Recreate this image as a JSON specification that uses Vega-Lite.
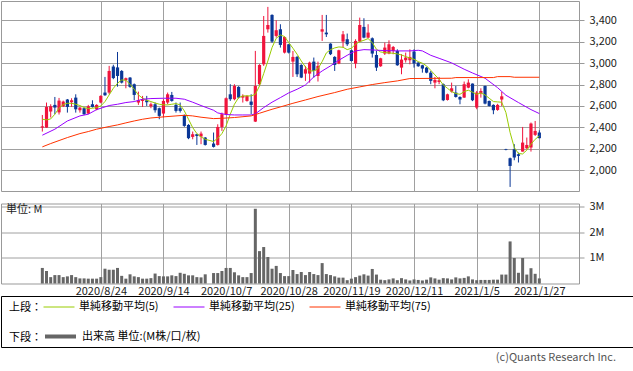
{
"$schema":"https://vega.github.io/schema/vega-lite/v6.json",
"padding":0,
"background":"white",
"datasets":{
"k":[
{"d":"2020-08-03","i":0,"o":2398,"h":2516,"l":2361,"c":2410,"v":0.61},
{"d":"2020-08-04","i":1,"o":2398,"h":2632,"l":2395,"c":2591,"v":0.49},
{"d":"2020-08-05","i":2,"o":2548,"h":2616,"l":2492,"c":2597,"v":0.25},
{"d":"2020-08-06","i":3,"o":2610,"h":2684,"l":2523,"c":2585,"v":0.33},
{"d":"2020-08-07","i":4,"o":2540,"h":2675,"l":2520,"c":2650,"v":0.33},
{"d":"2020-08-11","i":5,"o":2597,"h":2650,"l":2590,"c":2641,"v":0.25},
{"d":"2020-08-12","i":6,"o":2660,"h":2665,"l":2538,"c":2591,"v":0.28},
{"d":"2020-08-13","i":7,"o":2635,"h":2672,"l":2591,"c":2653,"v":0.33},
{"d":"2020-08-14","i":8,"o":2678,"h":2709,"l":2538,"c":2569,"v":0.25},
{"d":"2020-08-17","i":9,"o":2560,"h":2590,"l":2538,"c":2585,"v":0.20},
{"d":"2020-08-18","i":10,"o":2579,"h":2585,"l":2515,"c":2523,"v":0.20},
{"d":"2020-08-19","i":11,"o":2529,"h":2610,"l":2523,"c":2597,"v":0.19},
{"d":"2020-08-20","i":12,"o":2616,"h":2653,"l":2585,"c":2591,"v":0.19},
{"d":"2020-08-21","i":13,"o":2569,"h":2616,"l":2560,"c":2610,"v":0.19},
{"d":"2020-08-24","i":14,"o":2632,"h":2700,"l":2625,"c":2694,"v":0.25},
{"d":"2020-08-25","i":15,"o":2725,"h":2871,"l":2694,"c":2700,"v":0.58},
{"d":"2020-08-26","i":16,"o":2725,"h":2974,"l":2709,"c":2927,"v":0.54},
{"d":"2020-08-27","i":17,"o":2968,"h":2985,"l":2850,"c":2860,"v":0.54},
{"d":"2020-08-28","i":18,"o":2960,"h":3104,"l":2780,"c":2880,"v":0.61},
{"d":"2020-08-31","i":19,"o":2927,"h":2935,"l":2810,"c":2818,"v":0.30},
{"d":"2020-09-01","i":20,"o":2840,"h":2865,"l":2765,"c":2859,"v":0.19},
{"d":"2020-09-02","i":21,"o":2865,"h":2870,"l":2770,"c":2778,"v":0.36},
{"d":"2020-09-03","i":22,"o":2803,"h":2810,"l":2653,"c":2703,"v":0.28},
{"d":"2020-09-04","i":23,"o":2632,"h":2734,"l":2610,"c":2653,"v":0.25},
{"d":"2020-09-07","i":24,"o":2647,"h":2694,"l":2591,"c":2660,"v":0.19},
{"d":"2020-09-08","i":25,"o":2653,"h":2694,"l":2600,"c":2635,"v":0.19},
{"d":"2020-09-09","i":26,"o":2597,"h":2632,"l":2579,"c":2616,"v":0.21},
{"d":"2020-09-10","i":27,"o":2616,"h":2632,"l":2538,"c":2560,"v":0.39},
{"d":"2020-09-11","i":28,"o":2579,"h":2585,"l":2476,"c":2507,"v":0.29},
{"d":"2020-09-14","i":29,"o":2529,"h":2663,"l":2492,"c":2647,"v":0.28},
{"d":"2020-09-15","i":30,"o":2632,"h":2725,"l":2616,"c":2709,"v":0.28},
{"d":"2020-09-16","i":31,"o":2703,"h":2731,"l":2640,"c":2647,"v":0.32},
{"d":"2020-09-17","i":32,"o":2610,"h":2632,"l":2538,"c":2554,"v":0.29},
{"d":"2020-09-18","i":33,"o":2579,"h":2632,"l":2538,"c":2554,"v":0.42},
{"d":"2020-09-23","i":34,"o":2513,"h":2520,"l":2405,"c":2414,"v":0.38},
{"d":"2020-09-24","i":35,"o":2423,"h":2430,"l":2290,"c":2299,"v":0.32},
{"d":"2020-09-25","i":36,"o":2311,"h":2361,"l":2289,"c":2336,"v":0.32},
{"d":"2020-09-28","i":37,"o":2336,"h":2340,"l":2236,"c":2320,"v":0.25},
{"d":"2020-09-29","i":38,"o":2314,"h":2361,"l":2243,"c":2342,"v":0.24},
{"d":"2020-09-30","i":39,"o":2305,"h":2310,"l":2230,"c":2236,"v":0.36},
{"d":"2020-10-02","i":41,"o":2249,"h":2352,"l":2212,"c":2218,"v":0.41},
{"d":"2020-10-05","i":42,"o":2236,"h":2429,"l":2230,"c":2404,"v":0.41},
{"d":"2020-10-06","i":43,"o":2404,"h":2538,"l":2367,"c":2523,"v":0.49},
{"d":"2020-10-07","i":44,"o":2523,"h":2680,"l":2515,"c":2672,"v":0.61},
{"d":"2020-10-08","i":45,"o":2709,"h":2803,"l":2647,"c":2663,"v":0.61},
{"d":"2020-10-09","i":46,"o":2663,"h":2803,"l":2653,"c":2787,"v":0.44},
{"d":"2020-10-12","i":47,"o":2778,"h":2785,"l":2670,"c":2678,"v":0.32},
{"d":"2020-10-13","i":48,"o":2678,"h":2709,"l":2632,"c":2694,"v":0.25},
{"d":"2020-10-14","i":49,"o":2647,"h":2700,"l":2640,"c":2694,"v":0.25},
{"d":"2020-10-15","i":50,"o":2641,"h":2709,"l":2523,"c":2610,"v":0.41},
{"d":"2020-10-16","i":51,"o":2454,"h":3114,"l":2450,"c":2787,"v":2.93},
{"d":"2020-10-19","i":52,"o":2803,"h":2990,"l":2790,"c":2983,"v":1.27},
{"d":"2020-10-20","i":53,"o":2989,"h":3440,"l":2974,"c":3254,"v":1.43},
{"d":"2020-10-21","i":54,"o":3316,"h":3525,"l":3285,"c":3356,"v":1.04},
{"d":"2020-10-22","i":55,"o":3450,"h":3456,"l":3190,"c":3201,"v":0.58},
{"d":"2020-10-23","i":56,"o":3254,"h":3400,"l":3238,"c":3307,"v":0.69},
{"d":"2020-10-26","i":57,"o":3316,"h":3363,"l":3145,"c":3170,"v":0.41},
{"d":"2020-10-27","i":58,"o":3098,"h":3250,"l":3090,"c":3244,"v":0.29},
{"d":"2020-10-28","i":59,"o":3176,"h":3180,"l":3090,"c":3098,"v":0.29},
{"d":"2020-10-29","i":60,"o":3014,"h":3114,"l":2871,"c":3058,"v":0.53},
{"d":"2020-10-30","i":61,"o":3058,"h":3067,"l":2871,"c":2896,"v":0.37},
{"d":"2020-11-02","i":62,"o":2983,"h":2990,"l":2860,"c":2865,"v":0.45},
{"d":"2020-11-04","i":63,"o":2902,"h":2974,"l":2834,"c":2943,"v":0.33},
{"d":"2020-11-05","i":64,"o":2902,"h":3014,"l":2818,"c":3005,"v":0.45},
{"d":"2020-11-06","i":65,"o":3014,"h":3052,"l":2865,"c":2927,"v":0.37},
{"d":"2020-11-09","i":66,"o":2880,"h":3014,"l":2828,"c":2974,"v":0.33},
{"d":"2020-11-10","i":67,"o":3294,"h":3450,"l":3207,"c":3316,"v":0.80},
{"d":"2020-11-11","i":68,"o":3285,"h":3450,"l":3244,"c":3269,"v":0.37},
{"d":"2020-11-12","i":69,"o":3182,"h":3185,"l":3075,"c":3083,"v":0.33},
{"d":"2020-11-13","i":70,"o":3058,"h":3065,"l":2927,"c":2983,"v":0.28},
{"d":"2020-11-16","i":71,"o":2996,"h":3125,"l":2990,"c":3120,"v":0.23},
{"d":"2020-11-17","i":72,"o":3201,"h":3300,"l":3145,"c":3269,"v":0.23},
{"d":"2020-11-18","i":73,"o":3223,"h":3276,"l":3160,"c":3176,"v":0.13},
{"d":"2020-11-19","i":74,"o":3120,"h":3125,"l":3015,"c":3020,"v":0.19},
{"d":"2020-11-20","i":75,"o":2996,"h":3223,"l":2952,"c":3207,"v":0.25},
{"d":"2020-11-24","i":76,"o":3201,"h":3425,"l":3195,"c":3356,"v":0.31},
{"d":"2020-11-25","i":77,"o":3338,"h":3419,"l":3232,"c":3238,"v":0.36},
{"d":"2020-11-26","i":78,"o":3238,"h":3363,"l":3232,"c":3285,"v":0.31},
{"d":"2020-11-27","i":79,"o":3232,"h":3240,"l":3052,"c":3089,"v":0.57},
{"d":"2020-11-30","i":80,"o":3076,"h":3114,"l":2927,"c":2958,"v":0.35},
{"d":"2020-12-01","i":81,"o":2971,"h":3050,"l":2965,"c":3045,"v":0.15},
{"d":"2020-12-02","i":82,"o":3089,"h":3192,"l":3076,"c":3145,"v":0.13},
{"d":"2020-12-03","i":83,"o":3089,"h":3213,"l":3083,"c":3176,"v":0.16},
{"d":"2020-12-04","i":84,"o":3114,"h":3160,"l":3083,"c":3151,"v":0.20},
{"d":"2020-12-07","i":85,"o":3114,"h":3129,"l":2975,"c":2980,"v":0.13},
{"d":"2020-12-08","i":86,"o":2958,"h":3083,"l":2896,"c":3033,"v":0.21},
{"d":"2020-12-09","i":87,"o":3027,"h":3098,"l":3005,"c":3052,"v":0.16},
{"d":"2020-12-10","i":88,"o":3027,"h":3129,"l":2989,"c":3058,"v":0.12},
{"d":"2020-12-11","i":89,"o":3108,"h":3129,"l":2958,"c":2996,"v":0.16},
{"d":"2020-12-14","i":90,"o":3005,"h":3010,"l":2965,"c":2971,"v":0.14},
{"d":"2020-12-15","i":91,"o":2980,"h":2985,"l":2911,"c":2949,"v":0.12},
{"d":"2020-12-16","i":92,"o":2958,"h":2965,"l":2905,"c":2911,"v":0.15},
{"d":"2020-12-17","i":93,"o":2911,"h":2927,"l":2803,"c":2834,"v":0.24},
{"d":"2020-12-18","i":94,"o":2818,"h":2871,"l":2765,"c":2843,"v":0.20},
{"d":"2020-12-21","i":95,"o":2824,"h":2871,"l":2803,"c":2840,"v":0.15},
{"d":"2020-12-22","i":96,"o":2803,"h":2810,"l":2645,"c":2653,"v":0.21},
{"d":"2020-12-23","i":97,"o":2656,"h":2715,"l":2650,"c":2709,"v":0.20},
{"d":"2020-12-24","i":98,"o":2734,"h":2818,"l":2725,"c":2765,"v":0.16},
{"d":"2020-12-25","i":99,"o":2725,"h":2787,"l":2678,"c":2684,"v":0.24},
{"d":"2020-12-28","i":100,"o":2684,"h":2690,"l":2616,"c":2660,"v":0.20},
{"d":"2020-12-29","i":101,"o":2678,"h":2828,"l":2675,"c":2803,"v":0.22},
{"d":"2020-12-30","i":102,"o":2771,"h":2849,"l":2765,"c":2818,"v":0.28},
{"d":"2021-01-04","i":103,"o":2809,"h":2810,"l":2645,"c":2653,"v":0.16},
{"d":"2021-01-05","i":104,"o":2585,"h":2740,"l":2569,"c":2725,"v":0.13},
{"d":"2021-01-06","i":105,"o":2716,"h":2765,"l":2678,"c":2740,"v":0.14},
{"d":"2021-01-07","i":106,"o":2787,"h":2790,"l":2615,"c":2622,"v":0.14},
{"d":"2021-01-08","i":107,"o":2647,"h":2650,"l":2595,"c":2600,"v":0.14},
{"d":"2021-01-12","i":108,"o":2610,"h":2615,"l":2523,"c":2560,"v":0.15},
{"d":"2021-01-13","i":109,"o":2563,"h":2620,"l":2555,"c":2610,"v":0.15},
{"d":"2021-01-14","i":110,"o":2660,"h":2731,"l":2600,"c":2690,"v":0.35},
{"d":"2021-01-15","i":111,"o":2196,"h":2200,"l":2186,"c":2190,"v":0.35},
{"d":"2021-01-18","i":112,"o":2112,"h":2118,"l":1844,"c":2040,"v":1.65},
{"d":"2021-01-19","i":113,"o":2196,"h":2243,"l":2093,"c":2118,"v":1.00},
{"d":"2021-01-20","i":114,"o":2149,"h":2165,"l":2072,"c":2134,"v":0.42},
{"d":"2021-01-21","i":115,"o":2174,"h":2404,"l":2174,"c":2258,"v":1.00},
{"d":"2021-01-22","i":116,"o":2205,"h":2305,"l":2196,"c":2236,"v":0.35},
{"d":"2021-01-25","i":117,"o":2212,"h":2445,"l":2174,"c":2436,"v":0.60},
{"d":"2021-01-26","i":118,"o":2330,"h":2460,"l":2320,"c":2367,"v":0.38},
{"d":"2021-01-27","i":119,"o":2352,"h":2373,"l":2299,"c":2299,"v":0.20}
],
"m":[
{"s":"単純移動平均(5)","i":0,"p":2476},{"s":"単純移動平均(5)","i":1,"p":2470},{"s":"単純移動平均(5)","i":2,"p":2479},{"s":"単純移動平均(5)","i":3,"p":2523},{"s":"単純移動平均(5)","i":4,"p":2579},{"s":"単純移動平均(5)","i":5,"p":2613},{"s":"単純移動平均(5)","i":6,"p":2625},{"s":"単純移動平均(5)","i":7,"p":2625},{"s":"単純移動平均(5)","i":8,"p":2616},{"s":"単純移動平均(5)","i":9,"p":2604},{"s":"単純移動平均(5)","i":10,"p":2585},{"s":"単純移動平均(5)","i":11,"p":2576},{"s":"単純移動平均(5)","i":12,"p":2579},{"s":"単純移動平均(5)","i":13,"p":2585},{"s":"単純移動平均(5)","i":14,"p":2600},{"s":"単純移動平均(5)","i":15,"p":2641},{"s":"単純移動平均(5)","i":16,"p":2703},{"s":"単純移動平均(5)","i":17,"p":2765},{"s":"単純移動平均(5)","i":18,"p":2812},{"s":"単純移動平均(5)","i":19,"p":2843},{"s":"単純移動平均(5)","i":20,"p":2840},{"s":"単純移動平均(5)","i":21,"p":2803},{"s":"単純移動平均(5)","i":22,"p":2756},{"s":"単純移動平均(5)","i":23,"p":2703},{"s":"単純移動平均(5)","i":24,"p":2672},{"s":"単純移動平均(5)","i":25,"p":2653},{"s":"単純移動平均(5)","i":26,"p":2641},{"s":"単純移動平均(5)","i":27,"p":2628},{"s":"単純移動平均(5)","i":28,"p":2616},{"s":"単純移動平均(5)","i":29,"p":2610},{"s":"単純移動平均(5)","i":30,"p":2610},{"s":"単純移動平均(5)","i":31,"p":2616},{"s":"単純移動平均(5)","i":32,"p":2622},{"s":"単純移動平均(5)","i":33,"p":2610},{"s":"単純移動平均(5)","i":34,"p":2554},{"s":"単純移動平均(5)","i":35,"p":2476},{"s":"単純移動平均(5)","i":36,"p":2398},{"s":"単純移動平均(5)","i":37,"p":2342},{"s":"単純移動平均(5)","i":38,"p":2311},{"s":"単純移動平均(5)","i":39,"p":2289},{"s":"単純移動平均(5)","i":41,"p":2268},{"s":"単純移動平均(5)","i":42,"p":2299},{"s":"単純移動平均(5)","i":43,"p":2342},{"s":"単純移動平均(5)","i":44,"p":2414},{"s":"単純移動平均(5)","i":45,"p":2523},{"s":"単純移動平均(5)","i":46,"p":2616},{"s":"単純移動平均(5)","i":47,"p":2678},{"s":"単純移動平均(5)","i":48,"p":2694},{"s":"単純移動平均(5)","i":49,"p":2694},{"s":"単純移動平均(5)","i":50,"p":2694},{"s":"単純移動平均(5)","i":51,"p":2709},{"s":"単純移動平均(5)","i":52,"p":2787},{"s":"単純移動平均(5)","i":53,"p":2902},{"s":"単純移動平均(5)","i":54,"p":3020},{"s":"単純移動平均(5)","i":55,"p":3145},{"s":"単純移動平均(5)","i":56,"p":3232},{"s":"単純移動平均(5)","i":57,"p":3263},{"s":"単純移動平均(5)","i":58,"p":3248},{"s":"単純移動平均(5)","i":59,"p":3192},{"s":"単純移動平均(5)","i":60,"p":3139},{"s":"単純移動平均(5)","i":61,"p":3083},{"s":"単純移動平均(5)","i":62,"p":3020},{"s":"単純移動平均(5)","i":63,"p":2964},{"s":"単純移動平均(5)","i":64,"p":2927},{"s":"単純移動平均(5)","i":65,"p":2927},{"s":"単純移動平均(5)","i":66,"p":2949},{"s":"単純移動平均(5)","i":67,"p":3014},{"s":"単純移動平均(5)","i":68,"p":3095},{"s":"単純移動平均(5)","i":69,"p":3126},{"s":"単純移動平均(5)","i":70,"p":3142},{"s":"単純移動平均(5)","i":71,"p":3151},{"s":"単純移動平均(5)","i":72,"p":3148},{"s":"単純移動平均(5)","i":73,"p":3126},{"s":"単純移動平均(5)","i":74,"p":3139},{"s":"単純移動平均(5)","i":75,"p":3176},{"s":"単純移動平均(5)","i":76,"p":3201},{"s":"単純移動平均(5)","i":77,"p":3213},{"s":"単純移動平均(5)","i":78,"p":3229},{"s":"単純移動平均(5)","i":79,"p":3192},{"s":"単純移動平均(5)","i":80,"p":3129},{"s":"単純移動平均(5)","i":81,"p":3104},{"s":"単純移動平均(5)","i":82,"p":3098},{"s":"単純移動平均(5)","i":83,"p":3095},{"s":"単純移動平均(5)","i":84,"p":3092},{"s":"単純移動平均(5)","i":85,"p":3086},{"s":"単純移動平均(5)","i":86,"p":3076},{"s":"単純移動平均(5)","i":87,"p":3061},{"s":"単純移動平均(5)","i":88,"p":3048},{"s":"単純移動平均(5)","i":89,"p":3036},{"s":"単純移動平均(5)","i":90,"p":3014},{"s":"単純移動平均(5)","i":91,"p":2999},{"s":"単純移動平均(5)","i":92,"p":2974},{"s":"単純移動平均(5)","i":93,"p":2933},{"s":"単純移動平均(5)","i":94,"p":2890},{"s":"単純移動平均(5)","i":95,"p":2849},{"s":"単純移動平均(5)","i":96,"p":2796},{"s":"単純移動平均(5)","i":97,"p":2765},{"s":"単純移動平均(5)","i":98,"p":2734},{"s":"単純移動平均(5)","i":99,"p":2716},{"s":"単純移動平均(5)","i":100,"p":2709},{"s":"単純移動平均(5)","i":101,"p":2734},{"s":"単純移動平均(5)","i":102,"p":2747},{"s":"単純移動平均(5)","i":103,"p":2728},{"s":"単純移動平均(5)","i":104,"p":2709},{"s":"単純移動平均(5)","i":105,"p":2722},{"s":"単純移動平均(5)","i":106,"p":2703},{"s":"単純移動平均(5)","i":107,"p":2672},{"s":"単純移動平均(5)","i":108,"p":2641},{"s":"単純移動平均(5)","i":109,"p":2638},{"s":"単純移動平均(5)","i":110,"p":2635},{"s":"単純移動平均(5)","i":111,"p":2538},{"s":"単純移動平均(5)","i":112,"p":2352},{"s":"単純移動平均(5)","i":113,"p":2212},{"s":"単純移動平均(5)","i":114,"p":2156},{"s":"単純移動平均(5)","i":115,"p":2152},{"s":"単純移動平均(5)","i":116,"p":2187},{"s":"単純移動平均(5)","i":117,"p":2243},{"s":"単純移動平均(5)","i":118,"p":2289},{"s":"単純移動平均(5)","i":119,"p":2320},
{"s":"単純移動平均(25)","i":0,"p":2327},{"s":"単純移動平均(25)","i":3,"p":2383},{"s":"単純移動平均(25)","i":6,"p":2460},{"s":"単純移動平均(25)","i":9,"p":2507},{"s":"単純移動平均(25)","i":11,"p":2523},{"s":"単純移動平均(25)","i":13,"p":2566},{"s":"単純移動平均(25)","i":16,"p":2604},{"s":"単純移動平均(25)","i":18,"p":2616},{"s":"単純移動平均(25)","i":20,"p":2632},{"s":"単純移動平均(25)","i":22,"p":2641},{"s":"単純移動平均(25)","i":24,"p":2663},{"s":"単純移動平均(25)","i":26,"p":2669},{"s":"単純移動平均(25)","i":29,"p":2672},{"s":"単純移動平均(25)","i":32,"p":2672},{"s":"単純移動平均(25)","i":34,"p":2663},{"s":"単純移動平均(25)","i":36,"p":2635},{"s":"単純移動平均(25)","i":38,"p":2604},{"s":"単純移動平均(25)","i":41,"p":2560},{"s":"単純移動平均(25)","i":42,"p":2535},{"s":"単純移動平均(25)","i":44,"p":2520},{"s":"単純移動平均(25)","i":46,"p":2516},{"s":"単純移動平均(25)","i":48,"p":2516},{"s":"単純移動平均(25)","i":50,"p":2516},{"s":"単純移動平均(25)","i":51,"p":2526},{"s":"単純移動平均(25)","i":53,"p":2585},{"s":"単純移動平均(25)","i":55,"p":2635},{"s":"単純移動平均(25)","i":57,"p":2678},{"s":"単純移動平均(25)","i":59,"p":2722},{"s":"単純移動平均(25)","i":61,"p":2756},{"s":"単純移動平均(25)","i":63,"p":2796},{"s":"単純移動平均(25)","i":65,"p":2871},{"s":"単純移動平均(25)","i":67,"p":2927},{"s":"単純移動平均(25)","i":69,"p":2974},{"s":"単純移動平均(25)","i":71,"p":3027},{"s":"単純移動平均(25)","i":73,"p":3073},{"s":"単純移動平均(25)","i":75,"p":3114},{"s":"単純移動平均(25)","i":77,"p":3126},{"s":"単純移動平均(25)","i":79,"p":3123},{"s":"単純移動平均(25)","i":82,"p":3117},{"s":"単純移動平均(25)","i":85,"p":3114},{"s":"単純移動平均(25)","i":88,"p":3114},{"s":"単純移動平均(25)","i":90,"p":3120},{"s":"単純移動平均(25)","i":91,"p":3114},{"s":"単純移動平均(25)","i":93,"p":3073},{"s":"単純移動平均(25)","i":95,"p":3045},{"s":"単純移動平均(25)","i":98,"p":3002},{"s":"単純移動平均(25)","i":101,"p":2943},{"s":"単純移動平均(25)","i":103,"p":2908},{"s":"単純移動平均(25)","i":106,"p":2859},{"s":"単純移動平均(25)","i":109,"p":2771},{"s":"単純移動平均(25)","i":111,"p":2700},{"s":"単純移動平均(25)","i":114,"p":2632},{"s":"単純移動平均(25)","i":117,"p":2566},{"s":"単純移動平均(25)","i":119,"p":2529},
{"s":"単純移動平均(75)","i":0,"p":2218},{"s":"単純移動平均(75)","i":2,"p":2249},{"s":"単純移動平均(75)","i":4,"p":2277},{"s":"単純移動平均(75)","i":6,"p":2305},{"s":"単純移動平均(75)","i":9,"p":2342},{"s":"単純移動平均(75)","i":11,"p":2361},{"s":"単純移動平均(75)","i":13,"p":2383},{"s":"単純移動平均(75)","i":16,"p":2408},{"s":"単純移動平均(75)","i":18,"p":2423},{"s":"単純移動平均(75)","i":20,"p":2442},{"s":"単純移動平均(75)","i":22,"p":2460},{"s":"単純移動平均(75)","i":24,"p":2476},{"s":"単純移動平均(75)","i":26,"p":2488},{"s":"単純移動平均(75)","i":29,"p":2498},{"s":"単純移動平均(75)","i":32,"p":2507},{"s":"単純移動平均(75)","i":34,"p":2513},{"s":"単純移動平均(75)","i":36,"p":2507},{"s":"単純移動平均(75)","i":38,"p":2495},{"s":"単純移動平均(75)","i":41,"p":2482},{"s":"単純移動平均(75)","i":43,"p":2485},{"s":"単純移動平均(75)","i":46,"p":2492},{"s":"単純移動平均(75)","i":50,"p":2507},{"s":"単純移動平均(75)","i":52,"p":2532},{"s":"単純移動平均(75)","i":55,"p":2569},{"s":"単純移動平均(75)","i":57,"p":2591},{"s":"単純移動平均(75)","i":60,"p":2625},{"s":"単純移動平均(75)","i":63,"p":2656},{"s":"単純移動平均(75)","i":66,"p":2688},{"s":"単純移動平均(75)","i":70,"p":2725},{"s":"単純移動平均(75)","i":73,"p":2756},{"s":"単純移動平均(75)","i":76,"p":2778},{"s":"単純移動平均(75)","i":79,"p":2800},{"s":"単純移動平均(75)","i":82,"p":2818},{"s":"単純移動平均(75)","i":85,"p":2834},{"s":"単純移動平均(75)","i":88,"p":2856},{"s":"単純移動平均(75)","i":98,"p":2859},{"s":"単純移動平均(75)","i":99,"p":2865},{"s":"単純移動平均(75)","i":108,"p":2865},{"s":"単純移動平均(75)","i":109,"p":2874},{"s":"単純移動平均(75)","i":112,"p":2874},{"s":"単純移動平均(75)","i":113,"p":2868},{"s":"単純移動平均(75)","i":119,"p":2868}
]
},
"config":{
"font":"Noto Sans CJK JP",
"view":{"stroke":"#999999"},
"axis":{"labelFont":"Noto Sans CJK JP","labelFontSize":11,"labelColor":"#222222","gridColor":"#a0a0a0","gridOpacity":1,"tickColor":"#999999","domain":false,"labelFlush":false,"labelOverlap":false},
"axisY":{"labelOverlap":false},
"legend":{"labelFont":"Noto Sans CJK JP","titleFont":"Noto Sans CJK JP"},
"title":{"font":"Noto Sans CJK JP"}
},
"resolve":{"scale":{"color":"independent","stroke":"independent","strokeDash":"independent"},"legend":{"color":"independent","stroke":"independent","strokeDash":"independent"}},
"bounds":"flush",
"spacing":12.5,
"vconcat":[
{
"width":578,"height":190,
"data":{"name":"k"},
"encoding":{"x":{"field":"i","type":"quantitative","title":null,"scale":{"domain":[-8.7,127.3],"nice":false,"zero":false},"axis":{"values":[14,29,44,59,74,89,104,119],"labels":false,"ticks":false,"grid":true}}},
"layer":[
{"mark":{"type":"rule","strokeWidth":1},
 "encoding":{
  "y":{"field":"l","type":"quantitative","title":null,"scale":{"domain":[1806,3580],"nice":false,"zero":false},"axis":{"orient":"right","values":[2000,2200,2400,2600,2800,3000,3200,3400],"format":",d","tickSize":5,"labelPadding":5,"grid":true,"labelOverlap":false}},
  "y2":{"field":"h"},
  "color":{"condition":{"test":"datum.c >= datum.o","value":"#f0143c"},"value":"#0a3796"}}},
{"mark":{"type":"bar","size":3.2,"orient":"vertical"},
 "encoding":{
  "y":{"field":"o","type":"quantitative","title":null,"axis":{"orient":"right","values":[2000,2200,2400,2600,2800,3000,3200,3400],"format":",d","tickSize":5,"labelPadding":5,"grid":true,"labelOverlap":false}},
  "y2":{"field":"c"},
  "color":{"condition":{"test":"datum.c >= datum.o","value":"#f0143c"},"value":"#0a3796"}}},
{"data":{"name":"m"},
 "mark":{"type":"line","strokeWidth":1},
 "encoding":{
  "y":{"field":"p","type":"quantitative","title":null,"axis":{"orient":"right","values":[2000,2200,2400,2600,2800,3000,3200,3400],"format":",d","tickSize":5,"labelPadding":5,"grid":true,"labelOverlap":false}},
  "color":{"field":"s","type":"nominal","scale":{"domain":["単純移動平均(5)","単純移動平均(25)","単純移動平均(75)"],"range":["#99cc00","#9900ff","#ff3300"]},"legend":null}}}
]
},
{
"width":578,"height":80,
"data":{"name":"k"},
"title":{"text":"単位: M","anchor":"start","offset":-14,"dx":5,"fontSize":11,"fontWeight":"normal","color":"#222222"},
"mark":{"type":"bar","size":3,"color":"#666666","orient":"vertical"},
"encoding":{
 "x":{"field":"i","type":"quantitative","title":null,"scale":{"domain":[-8.7,127.3],"nice":false,"zero":false},"axis":{"values":[14,29,44,59,74,89,104,119],"ticks":false,"grid":true,"labelOverlap":false,"labelPadding":2,"labelExpr":"datum.value==14?'2020/8/24':datum.value==29?'2020/9/14':datum.value==44?'2020/10/7':datum.value==59?'2020/10/28':datum.value==74?'2020/11/19':datum.value==89?'2020/12/11':datum.value==104?'2021/1/5':'2021/1/27'"}},
 "y":{"field":"v","type":"quantitative","title":null,"scale":{"domain":[0,3.137],"nice":false},"axis":{"orient":"right","values":[1,2,3],"labelExpr":"datum.value + 'M'","tickSize":5,"labelPadding":5,"grid":true}}
}
},
{
"width":632,"height":51,
"view":{"stroke":"#000000","strokeWidth":1},
"title":{"text":"(c)Quants Research Inc.","orient":"bottom","anchor":"end","offset":5,"dx":-17,"fontSize":11,"fontWeight":"normal","color":"#555555"},
"layer":[
{"data":{"name":"m"},
 "mark":{"type":"line","opacity":0},
 "encoding":{"stroke":{"field":"s","type":"nominal","scale":{"domain":["単純移動平均(5)","単純移動平均(25)","単純移動平均(75)"],"range":["#99cc00","#9900ff","#ff3300"]},
  "legend":{"title":"上段：","orient":"none","legendX":8,"legendY":-5,"direction":"horizontal","titleOrient":"left","titleAnchor":"middle","titleBaseline":"top","titlePadding":1,"titleFontSize":11,"titleFontWeight":"normal","titleColor":"#000000","labelFontSize":11,"labelColor":"#000000","symbolType":"stroke","symbolSize":961,"symbolStrokeWidth":1,"symbolOpacity":1,"columnPadding":12,"labelOffset":4,"padding":0,"labelLimit":300}}}},
{"data":{"values":[{"t":"出来高 単位:(M株/口/枚)"}]},
 "mark":{"type":"line","opacity":0},
 "encoding":{"strokeDash":{"field":"t","type":"nominal","scale":{"range":[[1,0]]},
  "legend":{"title":"下段：","orient":"none","legendX":8,"legendY":23,"direction":"horizontal","titleOrient":"left","titleAnchor":"middle","titleBaseline":"top","titlePadding":1,"titleFontSize":11,"titleFontWeight":"normal","titleColor":"#000000","labelFontSize":11,"labelColor":"#000000","symbolType":"stroke","symbolSize":961,"symbolStrokeWidth":4,"symbolStrokeColor":"#666666","symbolOpacity":1,"labelOffset":4,"padding":0,"labelLimit":300}}}}
]
}
]
}
